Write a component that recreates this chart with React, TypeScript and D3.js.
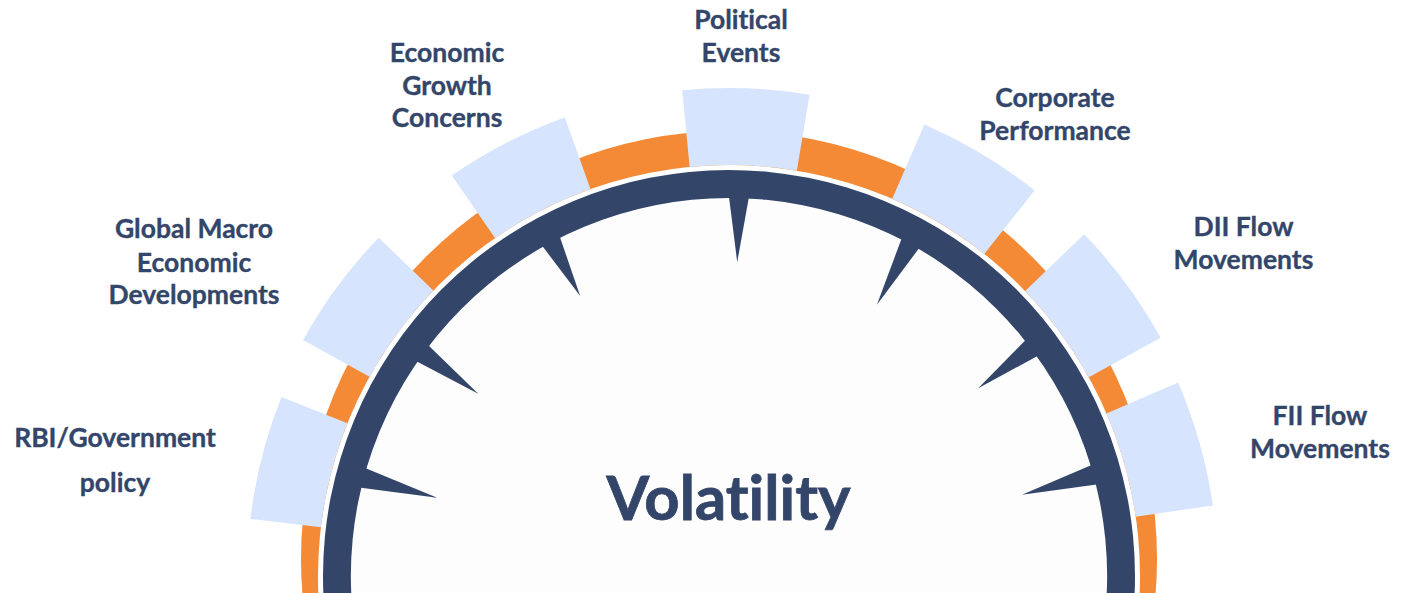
import React from "react";
import * as d3 from "d3";

// ---- data ----
const categories = [
  "RBI/Government policy",
  "Global Macro Economic Developments",
  "Economic Growth Concerns",
  "Political Events",
  "Corporate Performance",
  "DII Flow Movements",
  "FII Flow Movements",
];
const labelLines: string[][] = [
  ["RBI/Government", "policy"],
  ["Global Macro", "Economic", "Developments"],
  ["Economic", "Growth", "Concerns"],
  ["Political", "Events"],
  ["Corporate", "Performance"],
  ["DII Flow", "Movements"],
  ["FII Flow", "Movements"],
];
// angular position of each factor block (degrees, clockwise from top)
const blockStartDeg = [-83.2, -61, -34.7, -5.5, 23.4, 46.1, 66.7];
const blockSpanDeg = 15;
// pointer (needle) angle and tip radius
const pointerDeg = [-75, -54, -28, 1.5, 28.6, 53, 74.5];
const pointerTip = [302, 310, 317, 314, 309, 312, 304];
const centerTitle = "Volatility";

// ---- layout (kept apart from data) ----
const W = 1408;
const H = 593;
const C = { x: 729, y: 576 };
const ORANGE_C = { x: 729, y: 559 };
const blockOuter = [482, 487, 487, 488, 492, 493, 489];
const labelPos: { x: number; y: number[] }[] = [
  { x: 115, y: [447, 492] },
  { x: 194, y: [238, 272, 304] },
  { x: 447, y: [62, 95, 127] },
  { x: 741, y: [29, 62] },
  { x: 1055, y: [107, 140] },
  { x: 1243.5, y: [236, 269] },
  { x: 1320, y: [425, 458] },
];

const DARK = "#33466a";
const ORANGE = "#f48a36";
const BLUE = "#d6e4fd";
const FONT = "Lato, 'Open Sans', sans-serif";
const noLig = { fontVariantLigatures: "none", fontFeatureSettings: '"liga" 0, "clig" 0' } as any;

const rad = (d: number) => (d * Math.PI) / 180;

export default function App() {
  const blockArc = (d: number, i: number) =>
    d3
      .arc<any>()
      .innerRadius(411)
      .outerRadius(blockOuter[i])
      .startAngle(rad(d))
      .endAngle(rad(d + blockSpanDeg))(null as any);

  const ringArc = d3
    .arc<any>()
    .innerRadius(378)
    .outerRadius(406)
    .startAngle(0)
    .endAngle(2 * Math.PI)(null as any);

  const pointerPath = (deg: number, tip: number) => {
    const a = rad(deg);
    const u = [Math.sin(a), -Math.cos(a)];
    const t = [Math.cos(a), Math.sin(a)];
    const rb = 386;
    const hw = 11;
    const p = d3.path();
    p.moveTo(u[0] * rb + t[0] * hw, u[1] * rb + t[1] * hw);
    p.lineTo(u[0] * tip, u[1] * tip);
    p.lineTo(u[0] * rb - t[0] * hw, u[1] * rb - t[1] * hw);
    p.closePath();
    return p.toString();
  };

  return (
    <svg
      width={W}
      height={H}
      style={{ position: "absolute", left: 0, top: 0, background: "#ffffff" }}
    >
      {/* orange crescent band */}
      <circle cx={ORANGE_C.x} cy={ORANGE_C.y} r={428} fill={ORANGE} />
      <circle cx={C.x} cy={C.y} r={411} fill="#ffffff" />
      {/* factor blocks */}
      <g transform={`translate(${C.x},${C.y})`}>
        {blockStartDeg.map((d, i) => (
          <path key={categories[i]} d={blockArc(d, i) || ""} fill={BLUE} />
        ))}
        {/* inner fill */}
        <circle r={380} fill="#fdfdfe" />
        {/* dark ring */}
        <path d={ringArc || ""} fill={DARK} />
        {pointerDeg.map((d, i) => (
          <path key={"p" + i} d={pointerPath(d, pointerTip[i])} fill={DARK} />
        ))}
      </g>
      {/* labels */}
      {labelLines.map((lines, i) => (
        <text
          key={"l" + i}
          textAnchor="middle"
          fill={DARK}
          fontFamily={FONT}
          fontWeight={700}
          fontSize={26.5}
          stroke={DARK}
          strokeWidth={0.35}
          style={noLig}
        >
          {lines.map((s, j) => (
            <tspan key={j} x={labelPos[i].x} y={labelPos[i].y[j]}>
              {s}
            </tspan>
          ))}
        </text>
      ))}
      <text
        x={728.5}
        y={520}
        textAnchor="middle"
        fill={DARK}
        fontFamily={FONT}
        fontWeight={700}
        fontSize={61.5}
        stroke={DARK}
        strokeWidth={0.8}
        style={noLig}
      >
        {centerTitle}
      </text>
    </svg>
  );
}
